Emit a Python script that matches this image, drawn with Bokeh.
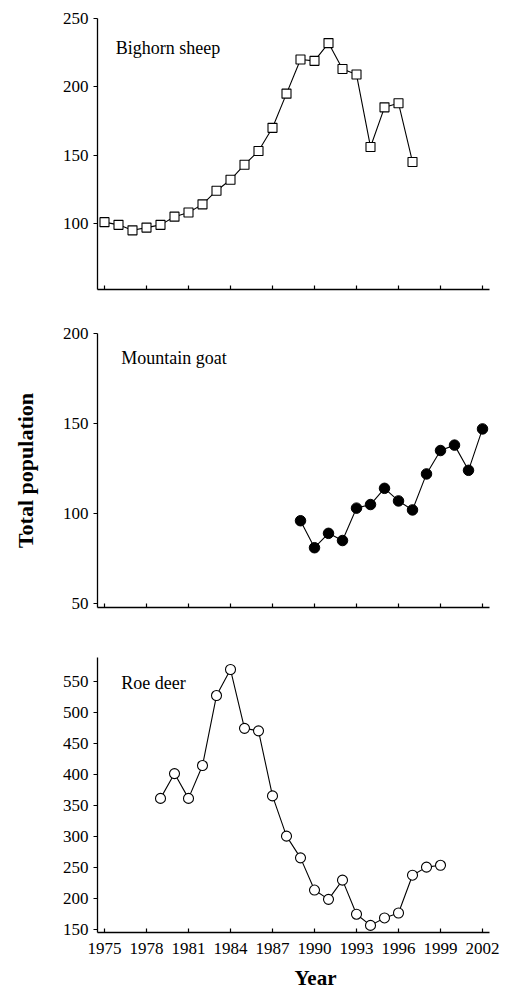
from bokeh.plotting import figure
from bokeh.layouts import column
from bokeh.models import Range1d, FixedTicker, Label
from bokeh.core.properties import value
from bokeh.embed import file_html
from bokeh.resources import INLINE

# ---- data ----
sheep_years = [1975, 1976, 1977, 1978, 1979, 1980, 1981, 1982, 1983, 1984, 1985, 1986,
               1987, 1988, 1989, 1990, 1991, 1992, 1993, 1994, 1995, 1996, 1997]
sheep_pop = [101, 99, 95, 97, 99, 105, 108, 114, 124, 132, 143, 153,
             170, 195, 220, 219, 232, 213, 209, 156, 185, 188, 145]

goat_years = [1989, 1990, 1991, 1992, 1993, 1994, 1995, 1996, 1997, 1998, 1999, 2000, 2001, 2002]
goat_pop = [96, 81, 89, 85, 103, 105, 114, 107, 102, 122, 135, 138, 124, 147]

deer_years = [1979, 1980, 1981, 1982, 1983, 1984, 1985, 1986, 1987, 1988, 1989,
              1990, 1991, 1992, 1993, 1994, 1995, 1996, 1997, 1998, 1999]
deer_pop = [362, 402, 362, 415, 528, 570, 475, 471, 366, 301, 266,
            214, 199, 230, 175, 157, 169, 177, 238, 251, 254]

year_ticks = [1975, 1978, 1981, 1984, 1987, 1990, 1993, 1996, 1999, 2002]
sheep_ticks = [100, 150, 200, 250]
goat_ticks = [50, 100, 150, 200]
deer_ticks = [150, 200, 250, 300, 350, 400, 450, 500, 550]

FONT = "Liberation Serif"
W = 511
x_range = Range1d(1974.5, 2002.5)


def panel(height, top, bottom, y0, y1, yticks, show_xlabels):
    p = figure(width=W, height=height, output_backend="svg", toolbar_location=None,
               x_range=x_range, y_range=Range1d(y0, y1),
               min_border_left=97, min_border_right=22,
               min_border_top=top, min_border_bottom=bottom)
    p.outline_line_color = None
    p.xgrid.visible = False
    p.ygrid.visible = False
    p.background_fill_color = "white"
    p.border_fill_color = "white"

    xa = p.xaxis[0]
    xa.ticker = FixedTicker(ticks=year_ticks)
    xa.minor_tick_line_color = None
    xa.major_tick_in = 4
    xa.major_tick_out = 0
    xa.axis_line_width = 1.3
    xa.major_tick_line_width = 1.2
    xa.axis_line_color = "black"
    xa.major_tick_line_color = "black"
    xa.major_label_text_font = FONT
    xa.major_label_text_font_size = "17px"
    xa.major_label_text_color = "black"
    xa.major_label_standoff = 10
    if not show_xlabels:
        xa.major_label_overrides = {t: "" for t in year_ticks}
        xa.major_label_standoff = 0

    ya = p.yaxis[0]
    ya.ticker = FixedTicker(ticks=yticks)
    ya.minor_tick_line_color = None
    ya.major_tick_in = 0
    ya.major_tick_out = 4
    ya.axis_line_width = 1.3
    ya.major_tick_line_width = 1.2
    ya.axis_line_color = "black"
    ya.major_tick_line_color = "black"
    ya.major_label_text_font = FONT
    ya.major_label_text_font_size = "17px"
    ya.major_label_text_color = "black"
    ya.major_label_standoff = 5
    return p


def name_label(p, x, y, text):
    p.add_layout(Label(x=x, y=y, text=text, text_font=FONT, text_font_size="18px",
                       text_color="black", text_align="left", text_baseline="middle"))


# Panel 1: Bighorn sheep
p1 = panel(311, 18, 22, 51.7, 250, sheep_ticks, False)
p1.line(sheep_years, sheep_pop, line_color="black", line_width=1.1)
p1.scatter(sheep_years, sheep_pop, marker="square", size=9, fill_color="white",
           line_color="black", line_width=1.1)
name_label(p1, 1975.8, 228.3, "Bighorn sheep")

# Panel 2: Mountain goat
p2 = panel(319, 22, 23, 47.8, 200, goat_ticks, False)
p2.line(goat_years, goat_pop, line_color="black", line_width=1.1)
p2.scatter(goat_years, goat_pop, marker="circle", size=10.5, fill_color="black",
           line_color="black", line_width=1)
name_label(p2, 1976.2, 186.4, "Mountain goat")
ya2 = p2.yaxis[0]
ya2.axis_label = "Total population"
ya2.axis_label_text_font = FONT
ya2.axis_label_text_font_size = "22px"
ya2.axis_label_text_font_style = "bold"
ya2.axis_label_text_color = "black"
ya2.axis_label_standoff = 22

# Panel 3: Roe deer
p3 = panel(334, 27, 32, 145.5, 589.4, deer_ticks, True)
p3.line(deer_years, deer_pop, line_color="black", line_width=1.1)
p3.scatter(deer_years, deer_pop, marker="circle", size=10, fill_color="white",
           line_color="black", line_width=1.1)
name_label(p3, 1976.2, 549, "Roe deer")

# Strip holding the x-axis title
p4 = figure(width=W, height=26, output_backend="svg", toolbar_location=None,
            x_range=x_range, y_range=Range1d(0, 1),
            x_axis_location=None, y_axis_location=None,
            min_border_left=97, min_border_right=22, min_border_top=0, min_border_bottom=0)
p4.outline_line_color = None
p4.xgrid.visible = False
p4.ygrid.visible = False
p4.text(x=[1990.07], y=[0.5], text=["Year"], text_font=value(FONT),
        text_font_size="21px", text_font_style="bold", text_color="black",
        text_align="center", text_baseline="middle", text_line_height=1.0)

layout = column(p1, p2, p3, p4, spacing=0)
open("out.html", "w").write(file_html(layout, INLINE))
